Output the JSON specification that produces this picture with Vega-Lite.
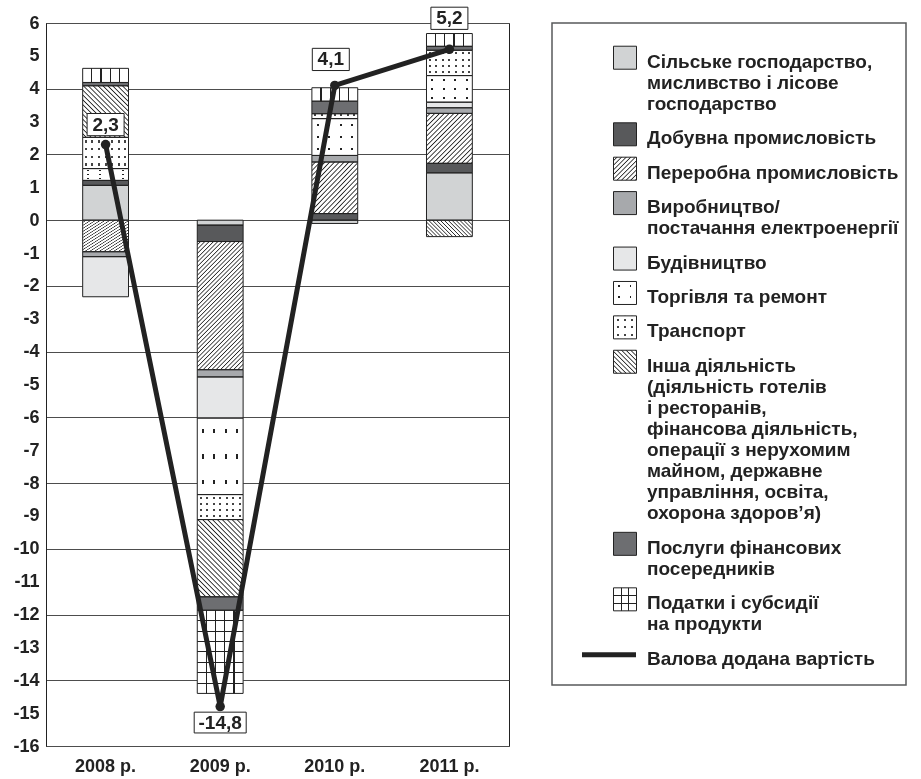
{
"$schema":"https://vega.github.io/schema/vega-lite/v6.json",
"background":"white",
"padding":{"left":12,"top":4,"right":5,"bottom":0},
"spacing":43,
"bounds":"flush",
"config":{"font":"Liberation Sans","locale":{"number":{"decimal":",","thousands":" ","grouping":[3],"currency":["",""],"minus":"-"}},"axis":{"labelFont":"Liberation Sans","labelFontWeight":"bold","labelFontSize":18,"labelColor":"#222"}},
"datasets":{
"seg":[
{"year":"2008 р.","cat":"agri","v":1.06},{"year":"2008 р.","cat":"mining","v":0.15},{"year":"2008 р.","cat":"manuf","v":-0.96},{"year":"2008 р.","cat":"elec","v":-0.15},{"year":"2008 р.","cat":"constr","v":-1.22},{"year":"2008 р.","cat":"trade","v":0.36},{"year":"2008 р.","cat":"transport","v":0.95},{"year":"2008 р.","cat":"other","v":1.57},{"year":"2008 р.","cat":"fin","v":0.10},{"year":"2008 р.","cat":"taxes","v":0.43},
{"year":"2009 р.","cat":"agri","v":-0.15},{"year":"2009 р.","cat":"mining","v":-0.5},{"year":"2009 р.","cat":"manuf","v":-3.9},{"year":"2009 р.","cat":"elec","v":-0.22},{"year":"2009 р.","cat":"constr","v":-1.25},{"year":"2009 р.","cat":"trade","v":-2.33},{"year":"2009 р.","cat":"transport","v":-0.76},{"year":"2009 р.","cat":"other","v":-2.35},{"year":"2009 р.","cat":"fin","v":-0.41},{"year":"2009 р.","cat":"taxes","v":-2.53},
{"year":"2010 р.","cat":"agri","v":-0.1},{"year":"2010 р.","cat":"mining","v":0.2},{"year":"2010 р.","cat":"manuf","v":1.57},{"year":"2010 р.","cat":"elec","v":0.2},{"year":"2010 р.","cat":"trade","v":1.12},{"year":"2010 р.","cat":"transport","v":0.15},{"year":"2010 р.","cat":"fin","v":0.38},{"year":"2010 р.","cat":"taxes","v":0.41},
{"year":"2011 р.","cat":"agri","v":1.44},{"year":"2011 р.","cat":"mining","v":0.29},{"year":"2011 р.","cat":"manuf","v":1.52},{"year":"2011 р.","cat":"elec","v":0.17},{"year":"2011 р.","cat":"constr","v":0.17},{"year":"2011 р.","cat":"trade","v":0.81},{"year":"2011 р.","cat":"transport","v":0.77},{"year":"2011 р.","cat":"other","v":-0.5},{"year":"2011 р.","cat":"fin","v":0.12},{"year":"2011 р.","cat":"taxes","v":0.39}
],
"gva":[{"year":"2008 р.","gva":2.3},{"year":"2009 р.","gva":-14.8},{"year":"2010 р.","gva":4.1},{"year":"2011 р.","gva":5.2}],
"leg":[
{"cat":"agri","label":"Сільське господарство,\nмисливство і лісове\nгосподарство"},
{"cat":"mining","label":"Добувна промисловість"},
{"cat":"manuf","label":"Переробна промисловість"},
{"cat":"elec","label":"Виробництво/\nпостачання електроенергії"},
{"cat":"constr","label":"Будівництво"},
{"cat":"trade","label":"Торгівля та ремонт"},
{"cat":"transport","label":"Транспорт"},
{"cat":"other","label":"Інша діяльність\n(діяльність готелів\nі ресторанів,\nфінансова діяльність,\nоперації з нерухомим\nмайном, державне\nуправління, освіта,\nохорона здоров’я)"},
{"cat":"fin","label":"Послуги фінансових\nпосередників"},
{"cat":"taxes","label":"Податки і субсидії\nна продукти"},
{"cat":"gva","label":"Валова додана вартість"}
]
},
"hconcat":[
{
"width":463,"height":723,
"view":{"stroke":"#222","strokeWidth":1},
"resolve":{"axis":{"y":"independent"}},
"encoding":{"x":{"field":"year","type":"ordinal","scale":{"domain":["2008 р.","2009 р.","2010 р.","2011 р."],"paddingInner":0.6,"paddingOuter":0.32},"axis":{"title":null,"domain":false,"ticks":false,"labelAngle":0,"labelPadding":11,"grid":false}}},
"layer":[
{
"data":{"name":"seg"},
"transform":[
{"calculate":"indexof(['agri','mining','manuf','elec','constr','trade','transport','other','fin','taxes'], datum.cat)","as":"ord"},
{"stack":"v","groupby":["year"],"sort":[{"field":"ord","order":"ascending"}],"as":["s0","s1"],"offset":"zero"}
],
"encoding":{
"y":{"field":"s0","type":"quantitative","title":null,"scale":{"domain":[-16,6],"nice":false,"zero":false},"axis":{"title":null,"values":[6,5,4,3,2,1,0,-1,-2,-3,-4,-5,-6,-7,-8,-9,-10,-11,-12,-13,-14,-15,-16],"ticks":false,"domainColor":"#222","labelPadding":7,"labelOverlap":false,"grid":true,"gridColor":"#4d4d4d","gridOpacity":{"condition":{"test":"datum.value % 2 !== 0","value":0},"value":1}}},
"y2":{"field":"s1"}
},
"layer":[
{"mark":{"type":"bar","strokeWidth":0},"encoding":{"fill":{"field":"cat","type":"nominal","scale":{"domain":["agri","mining","manuf","elec","constr","trade","transport","other","fin","taxes"],"range":["#d1d3d4","#58595b","#ffffff","#a7a9ac","#e6e7e8","#ffffff","#ffffff","#ffffff","#6d6e71","#ffffff"]},"legend":null}}},
{"transform":[{"filter":"datum.cat=='manuf' && datum.year!='2009 р.'"}],"mark":{"type":"bar","strokeWidth":0,"fill":{"gradient":"linear","x1":0,"y1":0,"x2":0.957,"y2":1.04,"stops":[{"offset":0,"color":"#fff"},{"offset":0.025,"color":"#fff"},{"offset":0.0375,"color":"#222"},{"offset":0.05,"color":"#fff"},{"offset":0.075,"color":"#fff"},{"offset":0.0875,"color":"#222"},{"offset":0.1,"color":"#fff"},{"offset":0.125,"color":"#fff"},{"offset":0.1375,"color":"#222"},{"offset":0.15,"color":"#fff"},{"offset":0.175,"color":"#fff"},{"offset":0.1875,"color":"#222"},{"offset":0.2,"color":"#fff"},{"offset":0.225,"color":"#fff"},{"offset":0.2375,"color":"#222"},{"offset":0.25,"color":"#fff"},{"offset":0.275,"color":"#fff"},{"offset":0.2875,"color":"#222"},{"offset":0.3,"color":"#fff"},{"offset":0.325,"color":"#fff"},{"offset":0.3375,"color":"#222"},{"offset":0.35,"color":"#fff"},{"offset":0.375,"color":"#fff"},{"offset":0.3875,"color":"#222"},{"offset":0.4,"color":"#fff"},{"offset":0.425,"color":"#fff"},{"offset":0.4375,"color":"#222"},{"offset":0.45,"color":"#fff"},{"offset":0.475,"color":"#fff"},{"offset":0.4875,"color":"#222"},{"offset":0.5,"color":"#fff"},{"offset":0.525,"color":"#fff"},{"offset":0.5375,"color":"#222"},{"offset":0.55,"color":"#fff"},{"offset":0.575,"color":"#fff"},{"offset":0.5875,"color":"#222"},{"offset":0.6,"color":"#fff"},{"offset":0.625,"color":"#fff"},{"offset":0.6375,"color":"#222"},{"offset":0.65,"color":"#fff"},{"offset":0.675,"color":"#fff"},{"offset":0.6875,"color":"#222"},{"offset":0.7,"color":"#fff"},{"offset":0.725,"color":"#fff"},{"offset":0.7375,"color":"#222"},{"offset":0.75,"color":"#fff"},{"offset":0.775,"color":"#fff"},{"offset":0.7875,"color":"#222"},{"offset":0.8,"color":"#fff"},{"offset":0.825,"color":"#fff"},{"offset":0.8375,"color":"#222"},{"offset":0.85,"color":"#fff"},{"offset":0.875,"color":"#fff"},{"offset":0.8875,"color":"#222"},{"offset":0.9,"color":"#fff"},{"offset":0.925,"color":"#fff"},{"offset":0.9375,"color":"#222"},{"offset":0.95,"color":"#fff"},{"offset":0.975,"color":"#fff"},{"offset":0.9875,"color":"#222"},{"offset":1,"color":"#fff"}]}}},
{"transform":[{"filter":"datum.cat=='manuf' && datum.year=='2009 р.'"}],"mark":{"type":"bar","strokeWidth":0,"fill":{"gradient":"linear","x1":0,"y1":0,"x2":0.433,"y2":1.204,"stops":[{"offset":0,"color":"#fff"},{"offset":0.0125,"color":"#fff"},{"offset":0.01875,"color":"#222"},{"offset":0.025,"color":"#fff"},{"offset":0.0375,"color":"#fff"},{"offset":0.04375,"color":"#222"},{"offset":0.05,"color":"#fff"},{"offset":0.0625,"color":"#fff"},{"offset":0.06875,"color":"#222"},{"offset":0.075,"color":"#fff"},{"offset":0.0875,"color":"#fff"},{"offset":0.09375,"color":"#222"},{"offset":0.1,"color":"#fff"},{"offset":0.1125,"color":"#fff"},{"offset":0.11875,"color":"#222"},{"offset":0.125,"color":"#fff"},{"offset":0.1375,"color":"#fff"},{"offset":0.14375,"color":"#222"},{"offset":0.15,"color":"#fff"},{"offset":0.1625,"color":"#fff"},{"offset":0.16875,"color":"#222"},{"offset":0.175,"color":"#fff"},{"offset":0.1875,"color":"#fff"},{"offset":0.19375,"color":"#222"},{"offset":0.2,"color":"#fff"},{"offset":0.2125,"color":"#fff"},{"offset":0.21875,"color":"#222"},{"offset":0.225,"color":"#fff"},{"offset":0.2375,"color":"#fff"},{"offset":0.24375,"color":"#222"},{"offset":0.25,"color":"#fff"},{"offset":0.2625,"color":"#fff"},{"offset":0.26875,"color":"#222"},{"offset":0.275,"color":"#fff"},{"offset":0.2875,"color":"#fff"},{"offset":0.29375,"color":"#222"},{"offset":0.3,"color":"#fff"},{"offset":0.3125,"color":"#fff"},{"offset":0.31875,"color":"#222"},{"offset":0.325,"color":"#fff"},{"offset":0.3375,"color":"#fff"},{"offset":0.34375,"color":"#222"},{"offset":0.35,"color":"#fff"},{"offset":0.3625,"color":"#fff"},{"offset":0.36875,"color":"#222"},{"offset":0.375,"color":"#fff"},{"offset":0.3875,"color":"#fff"},{"offset":0.39375,"color":"#222"},{"offset":0.4,"color":"#fff"},{"offset":0.4125,"color":"#fff"},{"offset":0.41875,"color":"#222"},{"offset":0.425,"color":"#fff"},{"offset":0.4375,"color":"#fff"},{"offset":0.44375,"color":"#222"},{"offset":0.45,"color":"#fff"},{"offset":0.4625,"color":"#fff"},{"offset":0.46875,"color":"#222"},{"offset":0.475,"color":"#fff"},{"offset":0.4875,"color":"#fff"},{"offset":0.49375,"color":"#222"},{"offset":0.5,"color":"#fff"},{"offset":0.5125,"color":"#fff"},{"offset":0.51875,"color":"#222"},{"offset":0.525,"color":"#fff"},{"offset":0.5375,"color":"#fff"},{"offset":0.54375,"color":"#222"},{"offset":0.55,"color":"#fff"},{"offset":0.5625,"color":"#fff"},{"offset":0.56875,"color":"#222"},{"offset":0.575,"color":"#fff"},{"offset":0.5875,"color":"#fff"},{"offset":0.59375,"color":"#222"},{"offset":0.6,"color":"#fff"},{"offset":0.6125,"color":"#fff"},{"offset":0.61875,"color":"#222"},{"offset":0.625,"color":"#fff"},{"offset":0.6375,"color":"#fff"},{"offset":0.64375,"color":"#222"},{"offset":0.65,"color":"#fff"},{"offset":0.6625,"color":"#fff"},{"offset":0.66875,"color":"#222"},{"offset":0.675,"color":"#fff"},{"offset":0.6875,"color":"#fff"},{"offset":0.69375,"color":"#222"},{"offset":0.7,"color":"#fff"},{"offset":0.7125,"color":"#fff"},{"offset":0.71875,"color":"#222"},{"offset":0.725,"color":"#fff"},{"offset":0.7375,"color":"#fff"},{"offset":0.74375,"color":"#222"},{"offset":0.75,"color":"#fff"},{"offset":0.7625,"color":"#fff"},{"offset":0.76875,"color":"#222"},{"offset":0.775,"color":"#fff"},{"offset":0.7875,"color":"#fff"},{"offset":0.79375,"color":"#222"},{"offset":0.8,"color":"#fff"},{"offset":0.8125,"color":"#fff"},{"offset":0.81875,"color":"#222"},{"offset":0.825,"color":"#fff"},{"offset":0.8375,"color":"#fff"},{"offset":0.84375,"color":"#222"},{"offset":0.85,"color":"#fff"},{"offset":0.8625,"color":"#fff"},{"offset":0.86875,"color":"#222"},{"offset":0.875,"color":"#fff"},{"offset":0.8875,"color":"#fff"},{"offset":0.89375,"color":"#222"},{"offset":0.9,"color":"#fff"},{"offset":0.9125,"color":"#fff"},{"offset":0.91875,"color":"#222"},{"offset":0.925,"color":"#fff"},{"offset":0.9375,"color":"#fff"},{"offset":0.94375,"color":"#222"},{"offset":0.95,"color":"#fff"},{"offset":0.9625,"color":"#fff"},{"offset":0.96875,"color":"#222"},{"offset":0.975,"color":"#fff"},{"offset":0.9875,"color":"#fff"},{"offset":0.99375,"color":"#222"},{"offset":1,"color":"#fff"}]}}},
{"transform":[{"filter":"datum.cat=='other' && datum.year=='2008 р.'"}],"mark":{"type":"bar","strokeWidth":0,"fill":{"gradient":"linear","x1":0,"y1":1,"x2":0.935,"y2":-0.057,"stops":[{"offset":0,"color":"#fff"},{"offset":0.025,"color":"#fff"},{"offset":0.0375,"color":"#222"},{"offset":0.05,"color":"#fff"},{"offset":0.075,"color":"#fff"},{"offset":0.0875,"color":"#222"},{"offset":0.1,"color":"#fff"},{"offset":0.125,"color":"#fff"},{"offset":0.1375,"color":"#222"},{"offset":0.15,"color":"#fff"},{"offset":0.175,"color":"#fff"},{"offset":0.1875,"color":"#222"},{"offset":0.2,"color":"#fff"},{"offset":0.225,"color":"#fff"},{"offset":0.2375,"color":"#222"},{"offset":0.25,"color":"#fff"},{"offset":0.275,"color":"#fff"},{"offset":0.2875,"color":"#222"},{"offset":0.3,"color":"#fff"},{"offset":0.325,"color":"#fff"},{"offset":0.3375,"color":"#222"},{"offset":0.35,"color":"#fff"},{"offset":0.375,"color":"#fff"},{"offset":0.3875,"color":"#222"},{"offset":0.4,"color":"#fff"},{"offset":0.425,"color":"#fff"},{"offset":0.4375,"color":"#222"},{"offset":0.45,"color":"#fff"},{"offset":0.475,"color":"#fff"},{"offset":0.4875,"color":"#222"},{"offset":0.5,"color":"#fff"},{"offset":0.525,"color":"#fff"},{"offset":0.5375,"color":"#222"},{"offset":0.55,"color":"#fff"},{"offset":0.575,"color":"#fff"},{"offset":0.5875,"color":"#222"},{"offset":0.6,"color":"#fff"},{"offset":0.625,"color":"#fff"},{"offset":0.6375,"color":"#222"},{"offset":0.65,"color":"#fff"},{"offset":0.675,"color":"#fff"},{"offset":0.6875,"color":"#222"},{"offset":0.7,"color":"#fff"},{"offset":0.725,"color":"#fff"},{"offset":0.7375,"color":"#222"},{"offset":0.75,"color":"#fff"},{"offset":0.775,"color":"#fff"},{"offset":0.7875,"color":"#222"},{"offset":0.8,"color":"#fff"},{"offset":0.825,"color":"#fff"},{"offset":0.8375,"color":"#222"},{"offset":0.85,"color":"#fff"},{"offset":0.875,"color":"#fff"},{"offset":0.8875,"color":"#222"},{"offset":0.9,"color":"#fff"},{"offset":0.925,"color":"#fff"},{"offset":0.9375,"color":"#222"},{"offset":0.95,"color":"#fff"},{"offset":0.975,"color":"#fff"},{"offset":0.9875,"color":"#222"},{"offset":1,"color":"#fff"}]}}},
{"transform":[{"filter":"datum.cat=='other' && datum.year=='2009 р.'"}],"mark":{"type":"bar","strokeWidth":0,"fill":{"gradient":"linear","x1":0,"y1":1,"x2":0.703,"y2":-0.177,"stops":[{"offset":0,"color":"#fff"},{"offset":0.02,"color":"#fff"},{"offset":0.03,"color":"#222"},{"offset":0.04,"color":"#fff"},{"offset":0.06,"color":"#fff"},{"offset":0.07,"color":"#222"},{"offset":0.08,"color":"#fff"},{"offset":0.1,"color":"#fff"},{"offset":0.11,"color":"#222"},{"offset":0.12,"color":"#fff"},{"offset":0.14,"color":"#fff"},{"offset":0.15,"color":"#222"},{"offset":0.16,"color":"#fff"},{"offset":0.18,"color":"#fff"},{"offset":0.19,"color":"#222"},{"offset":0.2,"color":"#fff"},{"offset":0.22,"color":"#fff"},{"offset":0.23,"color":"#222"},{"offset":0.24,"color":"#fff"},{"offset":0.26,"color":"#fff"},{"offset":0.27,"color":"#222"},{"offset":0.28,"color":"#fff"},{"offset":0.3,"color":"#fff"},{"offset":0.31,"color":"#222"},{"offset":0.32,"color":"#fff"},{"offset":0.34,"color":"#fff"},{"offset":0.35,"color":"#222"},{"offset":0.36,"color":"#fff"},{"offset":0.38,"color":"#fff"},{"offset":0.39,"color":"#222"},{"offset":0.4,"color":"#fff"},{"offset":0.42,"color":"#fff"},{"offset":0.43,"color":"#222"},{"offset":0.44,"color":"#fff"},{"offset":0.46,"color":"#fff"},{"offset":0.47,"color":"#222"},{"offset":0.48,"color":"#fff"},{"offset":0.5,"color":"#fff"},{"offset":0.51,"color":"#222"},{"offset":0.52,"color":"#fff"},{"offset":0.54,"color":"#fff"},{"offset":0.55,"color":"#222"},{"offset":0.56,"color":"#fff"},{"offset":0.58,"color":"#fff"},{"offset":0.59,"color":"#222"},{"offset":0.6,"color":"#fff"},{"offset":0.62,"color":"#fff"},{"offset":0.63,"color":"#222"},{"offset":0.64,"color":"#fff"},{"offset":0.66,"color":"#fff"},{"offset":0.67,"color":"#222"},{"offset":0.68,"color":"#fff"},{"offset":0.7,"color":"#fff"},{"offset":0.71,"color":"#222"},{"offset":0.72,"color":"#fff"},{"offset":0.74,"color":"#fff"},{"offset":0.75,"color":"#222"},{"offset":0.76,"color":"#fff"},{"offset":0.78,"color":"#fff"},{"offset":0.79,"color":"#222"},{"offset":0.8,"color":"#fff"},{"offset":0.82,"color":"#fff"},{"offset":0.83,"color":"#222"},{"offset":0.84,"color":"#fff"},{"offset":0.86,"color":"#fff"},{"offset":0.87,"color":"#222"},{"offset":0.88,"color":"#fff"},{"offset":0.9,"color":"#fff"},{"offset":0.91,"color":"#222"},{"offset":0.92,"color":"#fff"},{"offset":0.94,"color":"#fff"},{"offset":0.95,"color":"#222"},{"offset":0.96,"color":"#fff"},{"offset":0.98,"color":"#fff"},{"offset":0.99,"color":"#222"},{"offset":1,"color":"#fff"}]}}},
{"transform":[{"filter":"datum.cat=='other' && datum.year=='2011 р.'"}],"mark":{"type":"bar","strokeWidth":0,"fill":{"gradient":"linear","x1":0,"y1":1,"x2":1.204,"y2":0.568,"stops":[{"offset":0,"color":"#fff"},{"offset":0.03125,"color":"#fff"},{"offset":0.046875,"color":"#222"},{"offset":0.0625,"color":"#fff"},{"offset":0.09375,"color":"#fff"},{"offset":0.109375,"color":"#222"},{"offset":0.125,"color":"#fff"},{"offset":0.15625,"color":"#fff"},{"offset":0.171875,"color":"#222"},{"offset":0.1875,"color":"#fff"},{"offset":0.21875,"color":"#fff"},{"offset":0.234375,"color":"#222"},{"offset":0.25,"color":"#fff"},{"offset":0.28125,"color":"#fff"},{"offset":0.296875,"color":"#222"},{"offset":0.3125,"color":"#fff"},{"offset":0.34375,"color":"#fff"},{"offset":0.359375,"color":"#222"},{"offset":0.375,"color":"#fff"},{"offset":0.40625,"color":"#fff"},{"offset":0.421875,"color":"#222"},{"offset":0.4375,"color":"#fff"},{"offset":0.46875,"color":"#fff"},{"offset":0.484375,"color":"#222"},{"offset":0.5,"color":"#fff"},{"offset":0.53125,"color":"#fff"},{"offset":0.546875,"color":"#222"},{"offset":0.5625,"color":"#fff"},{"offset":0.59375,"color":"#fff"},{"offset":0.609375,"color":"#222"},{"offset":0.625,"color":"#fff"},{"offset":0.65625,"color":"#fff"},{"offset":0.671875,"color":"#222"},{"offset":0.6875,"color":"#fff"},{"offset":0.71875,"color":"#fff"},{"offset":0.734375,"color":"#222"},{"offset":0.75,"color":"#fff"},{"offset":0.78125,"color":"#fff"},{"offset":0.796875,"color":"#222"},{"offset":0.8125,"color":"#fff"},{"offset":0.84375,"color":"#fff"},{"offset":0.859375,"color":"#222"},{"offset":0.875,"color":"#fff"},{"offset":0.90625,"color":"#fff"},{"offset":0.921875,"color":"#222"},{"offset":0.9375,"color":"#fff"},{"offset":0.96875,"color":"#fff"},{"offset":0.984375,"color":"#222"},{"offset":1,"color":"#fff"}]}}},
{"transform":[{"filter":"datum.cat=='taxes'"}],"mark":{"type":"bar","strokeWidth":0,"fill":{"gradient":"linear","x1":0,"y1":0,"x2":1,"y2":0,"stops":[{"offset":0.188,"color":"#fff"},{"offset":0.188,"color":"#222"},{"offset":0.212,"color":"#222"},{"offset":0.212,"color":"#fff"},{"offset":0.388,"color":"#fff"},{"offset":0.388,"color":"#222"},{"offset":0.412,"color":"#222"},{"offset":0.412,"color":"#fff"},{"offset":0.588,"color":"#fff"},{"offset":0.588,"color":"#222"},{"offset":0.612,"color":"#222"},{"offset":0.612,"color":"#fff"},{"offset":0.788,"color":"#fff"},{"offset":0.788,"color":"#222"},{"offset":0.812,"color":"#222"},{"offset":0.812,"color":"#fff"}]}}},
{"transform":[{"filter":"datum.cat=='taxes' && datum.year=='2009 р.'"}],"mark":{"type":"bar","strokeWidth":0,"fill":{"gradient":"linear","x1":0,"y1":0,"x2":0,"y2":1,"stops":[{"offset":0.119,"color":"rgba(0,0,0,0)"},{"offset":0.119,"color":"#222"},{"offset":0.131,"color":"#222"},{"offset":0.131,"color":"rgba(0,0,0,0)"},{"offset":0.244,"color":"rgba(0,0,0,0)"},{"offset":0.244,"color":"#222"},{"offset":0.256,"color":"#222"},{"offset":0.256,"color":"rgba(0,0,0,0)"},{"offset":0.369,"color":"rgba(0,0,0,0)"},{"offset":0.369,"color":"#222"},{"offset":0.381,"color":"#222"},{"offset":0.381,"color":"rgba(0,0,0,0)"},{"offset":0.494,"color":"rgba(0,0,0,0)"},{"offset":0.494,"color":"#222"},{"offset":0.506,"color":"#222"},{"offset":0.506,"color":"rgba(0,0,0,0)"},{"offset":0.619,"color":"rgba(0,0,0,0)"},{"offset":0.619,"color":"#222"},{"offset":0.631,"color":"#222"},{"offset":0.631,"color":"rgba(0,0,0,0)"},{"offset":0.744,"color":"rgba(0,0,0,0)"},{"offset":0.744,"color":"#222"},{"offset":0.756,"color":"#222"},{"offset":0.756,"color":"rgba(0,0,0,0)"},{"offset":0.869,"color":"rgba(0,0,0,0)"},{"offset":0.869,"color":"#222"},{"offset":0.881,"color":"#222"},{"offset":0.881,"color":"rgba(0,0,0,0)"}]}}},
{"transform":[{"filter":"datum.cat=='trade'"}],"mark":{"type":"bar","strokeWidth":0,"fill":{"gradient":"linear","x1":0,"y1":0,"x2":1,"y2":0,"stops":[{"offset":0.103,"color":"#fff"},{"offset":0.103,"color":"#222"},{"offset":0.147,"color":"#222"},{"offset":0.147,"color":"#fff"},{"offset":0.353,"color":"#fff"},{"offset":0.353,"color":"#222"},{"offset":0.397,"color":"#222"},{"offset":0.397,"color":"#fff"},{"offset":0.603,"color":"#fff"},{"offset":0.603,"color":"#222"},{"offset":0.647,"color":"#222"},{"offset":0.647,"color":"#fff"},{"offset":0.853,"color":"#fff"},{"offset":0.853,"color":"#222"},{"offset":0.897,"color":"#222"},{"offset":0.897,"color":"#fff"}]}}},
{"transform":[{"filter":"datum.cat=='trade'"}],"mark":{"type":"bar","strokeWidth":0,"blend":"lighten","fill":{"gradient":"linear","x1":0,"y1":0,"x2":0,"y2":1,"stops":[{"offset":0.137,"color":"#fff"},{"offset":0.137,"color":"#222"},{"offset":0.197,"color":"#222"},{"offset":0.197,"color":"#fff"},{"offset":0.47,"color":"#fff"},{"offset":0.47,"color":"#222"},{"offset":0.53,"color":"#222"},{"offset":0.53,"color":"#fff"},{"offset":0.803,"color":"#fff"},{"offset":0.803,"color":"#222"},{"offset":0.863,"color":"#222"},{"offset":0.863,"color":"#fff"}]}}},
{"transform":[{"filter":"datum.cat=='transport'"}],"mark":{"type":"bar","strokeWidth":0,"fill":{"gradient":"linear","x1":0,"y1":0,"x2":1,"y2":0,"stops":[{"offset":0.049,"color":"#fff"},{"offset":0.049,"color":"#444"},{"offset":0.093,"color":"#444"},{"offset":0.093,"color":"#fff"},{"offset":0.192,"color":"#fff"},{"offset":0.192,"color":"#444"},{"offset":0.236,"color":"#444"},{"offset":0.236,"color":"#fff"},{"offset":0.335,"color":"#fff"},{"offset":0.335,"color":"#444"},{"offset":0.379,"color":"#444"},{"offset":0.379,"color":"#fff"},{"offset":0.478,"color":"#fff"},{"offset":0.478,"color":"#444"},{"offset":0.522,"color":"#444"},{"offset":0.522,"color":"#fff"},{"offset":0.621,"color":"#fff"},{"offset":0.621,"color":"#444"},{"offset":0.665,"color":"#444"},{"offset":0.665,"color":"#fff"},{"offset":0.764,"color":"#fff"},{"offset":0.764,"color":"#444"},{"offset":0.808,"color":"#444"},{"offset":0.808,"color":"#fff"},{"offset":0.907,"color":"#fff"},{"offset":0.907,"color":"#444"},{"offset":0.951,"color":"#444"},{"offset":0.951,"color":"#fff"}]}}},
{"transform":[{"filter":"datum.cat=='transport'"}],"mark":{"type":"bar","strokeWidth":0,"blend":"lighten","fill":{"gradient":"linear","x1":0,"y1":0,"x2":0,"y2":1,"stops":[{"offset":0.085,"color":"#fff"},{"offset":0.085,"color":"#444"},{"offset":0.165,"color":"#444"},{"offset":0.165,"color":"#fff"},{"offset":0.335,"color":"#fff"},{"offset":0.335,"color":"#444"},{"offset":0.415,"color":"#444"},{"offset":0.415,"color":"#fff"},{"offset":0.585,"color":"#fff"},{"offset":0.585,"color":"#444"},{"offset":0.665,"color":"#444"},{"offset":0.665,"color":"#fff"},{"offset":0.835,"color":"#fff"},{"offset":0.835,"color":"#444"},{"offset":0.915,"color":"#444"},{"offset":0.915,"color":"#fff"}]}}},
{"mark":{"type":"bar","filled":false,"stroke":"#222","strokeWidth":1}}
]
},
{"data":{"name":"gva"},"mark":{"type":"line","color":"#222","strokeWidth":5,"point":{"filled":true,"size":90,"color":"#222","opacity":1}},"encoding":{"y":{"field":"gva","type":"quantitative","axis":null}}},
{"data":{"name":"gva"},"transform":[{"filter":"datum.year=='2008 р.'"}],"encoding":{"y":{"field":"gva","type":"quantitative","axis":null},"text":{"field":"gva","type":"quantitative","format":".1f"}},"layer":[
{"mark":{"type":"point","shape":"M-1,-0.6H1V0.6H-1Z","size":1369,"filled":true,"fill":"#fff","stroke":"#222","strokeWidth":1,"opacity":1,"yOffset":-20}},
{"mark":{"type":"text","font":"Liberation Sans","fontSize":19,"fontWeight":"bold","fill":"#222","baseline":"middle","yOffset":-20}}]},
{"data":{"name":"gva"},"transform":[{"filter":"datum.year=='2009 р.'"}],"encoding":{"y":{"field":"gva","type":"quantitative","axis":null},"text":{"field":"gva","type":"quantitative","format":".1f"}},"layer":[
{"mark":{"type":"point","shape":"M-1,-0.4H1V0.4H-1Z","size":2704,"filled":true,"fill":"#fff","stroke":"#222","strokeWidth":1,"opacity":1,"yOffset":16}},
{"mark":{"type":"text","font":"Liberation Sans","fontSize":19,"fontWeight":"bold","fill":"#222","baseline":"middle","yOffset":16}}]},
{"data":{"name":"gva"},"transform":[{"filter":"datum.year=='2010 р.'"}],"encoding":{"y":{"field":"gva","type":"quantitative","axis":null},"text":{"field":"gva","type":"quantitative","format":".1f"}},"layer":[
{"mark":{"type":"point","shape":"M-1,-0.6H1V0.6H-1Z","size":1369,"filled":true,"fill":"#fff","stroke":"#222","strokeWidth":1,"opacity":1,"yOffset":-26,"xOffset":-4}},
{"mark":{"type":"text","font":"Liberation Sans","fontSize":19,"fontWeight":"bold","fill":"#222","baseline":"middle","yOffset":-26,"xOffset":-4}}]},
{"data":{"name":"gva"},"transform":[{"filter":"datum.year=='2011 р.'"}],"encoding":{"y":{"field":"gva","type":"quantitative","axis":null},"text":{"field":"gva","type":"quantitative","format":".1f"}},"layer":[
{"mark":{"type":"point","shape":"M-1,-0.6H1V0.6H-1Z","size":1369,"filled":true,"fill":"#fff","stroke":"#222","strokeWidth":1,"opacity":1,"yOffset":-31}},
{"mark":{"type":"text","font":"Liberation Sans","fontSize":19,"fontWeight":"bold","fill":"#222","baseline":"middle","yOffset":-31}}]}
]
},
{
"width":354,"height":662,
"view":{"stroke":"#58595b","strokeWidth":1.5},
"data":{"name":"leg"},
"transform":[
{"calculate":"indexof(['agri','mining','manuf','elec','constr','trade','transport','other','fin','taxes','gva'], datum.cat)","as":"ord"},
{"calculate":"length(split(datum.label, '\\n')) + 0.63","as":"span"},
{"window":[{"op":"sum","field":"span","as":"cum"}],"sort":[{"field":"ord","order":"ascending"}],"frame":[null,0]},
{"calculate":"datum.cum - datum.span","as":"pos"}
],
"encoding":{"y":{"field":"pos","type":"quantitative","scale":{"domain":[-1.645,29.73],"reverse":true,"nice":false,"zero":false},"axis":null}},
"layer":[
{"transform":[{"filter":"datum.cat!='gva'"}],"mark":{"type":"point","shape":"square","size":529,"filled":true,"opacity":1,"strokeWidth":0},"encoding":{"x":{"value":73},"fill":{"field":"cat","type":"nominal","scale":{"domain":["agri","mining","manuf","elec","constr","trade","transport","other","fin","taxes"],"range":["#d1d3d4","#58595b","#ffffff","#a7a9ac","#e6e7e8","#ffffff","#ffffff","#ffffff","#6d6e71","#ffffff"]},"legend":null}}},
{"transform":[{"filter":"datum.cat=='manuf'"}],"mark":{"type":"point","shape":"square","size":529,"filled":true,"opacity":1,"strokeWidth":0,"fill":{"gradient":"linear","x1":0,"y1":0,"x2":1,"y2":1,"stops":[{"offset":0,"color":"#fff"},{"offset":0.05,"color":"#fff"},{"offset":0.075,"color":"#222"},{"offset":0.1,"color":"#fff"},{"offset":0.15,"color":"#fff"},{"offset":0.175,"color":"#222"},{"offset":0.2,"color":"#fff"},{"offset":0.25,"color":"#fff"},{"offset":0.275,"color":"#222"},{"offset":0.3,"color":"#fff"},{"offset":0.35,"color":"#fff"},{"offset":0.375,"color":"#222"},{"offset":0.4,"color":"#fff"},{"offset":0.45,"color":"#fff"},{"offset":0.475,"color":"#222"},{"offset":0.5,"color":"#fff"},{"offset":0.55,"color":"#fff"},{"offset":0.575,"color":"#222"},{"offset":0.6,"color":"#fff"},{"offset":0.65,"color":"#fff"},{"offset":0.675,"color":"#222"},{"offset":0.7,"color":"#fff"},{"offset":0.75,"color":"#fff"},{"offset":0.775,"color":"#222"},{"offset":0.8,"color":"#fff"},{"offset":0.85,"color":"#fff"},{"offset":0.875,"color":"#222"},{"offset":0.9,"color":"#fff"},{"offset":0.95,"color":"#fff"},{"offset":0.975,"color":"#222"},{"offset":1,"color":"#fff"}]}},"encoding":{"x":{"value":73}}},
{"transform":[{"filter":"datum.cat=='other'"}],"mark":{"type":"point","shape":"square","size":529,"filled":true,"opacity":1,"strokeWidth":0,"fill":{"gradient":"linear","x1":0,"y1":1,"x2":1,"y2":0,"stops":[{"offset":0,"color":"#fff"},{"offset":0.05,"color":"#fff"},{"offset":0.075,"color":"#222"},{"offset":0.1,"color":"#fff"},{"offset":0.15,"color":"#fff"},{"offset":0.175,"color":"#222"},{"offset":0.2,"color":"#fff"},{"offset":0.25,"color":"#fff"},{"offset":0.275,"color":"#222"},{"offset":0.3,"color":"#fff"},{"offset":0.35,"color":"#fff"},{"offset":0.375,"color":"#222"},{"offset":0.4,"color":"#fff"},{"offset":0.45,"color":"#fff"},{"offset":0.475,"color":"#222"},{"offset":0.5,"color":"#fff"},{"offset":0.55,"color":"#fff"},{"offset":0.575,"color":"#222"},{"offset":0.6,"color":"#fff"},{"offset":0.65,"color":"#fff"},{"offset":0.675,"color":"#222"},{"offset":0.7,"color":"#fff"},{"offset":0.75,"color":"#fff"},{"offset":0.775,"color":"#222"},{"offset":0.8,"color":"#fff"},{"offset":0.85,"color":"#fff"},{"offset":0.875,"color":"#222"},{"offset":0.9,"color":"#fff"},{"offset":0.95,"color":"#fff"},{"offset":0.975,"color":"#222"},{"offset":1,"color":"#fff"}]}},"encoding":{"x":{"value":73}}},
{"transform":[{"filter":"datum.cat=='taxes'"}],"mark":{"type":"point","shape":"square","size":529,"filled":true,"opacity":1,"strokeWidth":0,"fill":{"gradient":"linear","x1":0,"y1":0,"x2":1,"y2":0,"stops":[{"offset":0.311,"color":"#fff"},{"offset":0.311,"color":"#222"},{"offset":0.355,"color":"#222"},{"offset":0.355,"color":"#fff"},{"offset":0.645,"color":"#fff"},{"offset":0.645,"color":"#222"},{"offset":0.689,"color":"#222"},{"offset":0.689,"color":"#fff"}]}},"encoding":{"x":{"value":73}}},
{"transform":[{"filter":"datum.cat=='taxes'"}],"mark":{"type":"point","shape":"square","size":529,"filled":true,"opacity":1,"strokeWidth":0,"fill":{"gradient":"linear","x1":0,"y1":0,"x2":0,"y2":1,"stops":[{"offset":0.311,"color":"rgba(0,0,0,0)"},{"offset":0.311,"color":"#222"},{"offset":0.355,"color":"#222"},{"offset":0.355,"color":"rgba(0,0,0,0)"},{"offset":0.645,"color":"rgba(0,0,0,0)"},{"offset":0.645,"color":"#222"},{"offset":0.689,"color":"#222"},{"offset":0.689,"color":"rgba(0,0,0,0)"}]}},"encoding":{"x":{"value":73}}},
{"transform":[{"filter":"datum.cat=='trade'"}],"mark":{"type":"point","shape":"square","size":529,"filled":true,"opacity":1,"strokeWidth":0,"fill":{"gradient":"linear","x1":0,"y1":0,"x2":1,"y2":0,"stops":[{"offset":0.2,"color":"#fff"},{"offset":0.2,"color":"#222"},{"offset":0.27,"color":"#222"},{"offset":0.27,"color":"#fff"},{"offset":0.7,"color":"#fff"},{"offset":0.7,"color":"#222"},{"offset":0.77,"color":"#222"},{"offset":0.77,"color":"#fff"}]}},"encoding":{"x":{"value":73}}},
{"transform":[{"filter":"datum.cat=='trade'"}],"mark":{"type":"point","shape":"square","size":529,"filled":true,"opacity":1,"strokeWidth":0,"blend":"lighten","fill":{"gradient":"linear","x1":0,"y1":0,"x2":0,"y2":1,"stops":[{"offset":0.15,"color":"#fff"},{"offset":0.15,"color":"#222"},{"offset":0.22,"color":"#222"},{"offset":0.22,"color":"#fff"},{"offset":0.65,"color":"#fff"},{"offset":0.65,"color":"#222"},{"offset":0.72,"color":"#222"},{"offset":0.72,"color":"#fff"}]}},"encoding":{"x":{"value":73}}},
{"transform":[{"filter":"datum.cat=='transport'"}],"mark":{"type":"point","shape":"square","size":529,"filled":true,"opacity":1,"strokeWidth":0,"fill":{"gradient":"linear","x1":0,"y1":0,"x2":1,"y2":0,"stops":[{"offset":0.14,"color":"#fff"},{"offset":0.14,"color":"#444"},{"offset":0.22,"color":"#444"},{"offset":0.22,"color":"#fff"},{"offset":0.46,"color":"#fff"},{"offset":0.46,"color":"#444"},{"offset":0.54,"color":"#444"},{"offset":0.54,"color":"#fff"},{"offset":0.78,"color":"#fff"},{"offset":0.78,"color":"#444"},{"offset":0.86,"color":"#444"},{"offset":0.86,"color":"#fff"}]}},"encoding":{"x":{"value":73}}},
{"transform":[{"filter":"datum.cat=='transport'"}],"mark":{"type":"point","shape":"square","size":529,"filled":true,"opacity":1,"strokeWidth":0,"blend":"lighten","fill":{"gradient":"linear","x1":0,"y1":0,"x2":0,"y2":1,"stops":[{"offset":0.14,"color":"#fff"},{"offset":0.14,"color":"#444"},{"offset":0.22,"color":"#444"},{"offset":0.22,"color":"#fff"},{"offset":0.46,"color":"#fff"},{"offset":0.46,"color":"#444"},{"offset":0.54,"color":"#444"},{"offset":0.54,"color":"#fff"},{"offset":0.78,"color":"#fff"},{"offset":0.78,"color":"#444"},{"offset":0.86,"color":"#444"},{"offset":0.86,"color":"#fff"}]}},"encoding":{"x":{"value":73}}},
{"transform":[{"filter":"datum.cat!='gva'"}],"mark":{"type":"point","shape":"square","size":529,"filled":false,"opacity":1,"stroke":"#222","strokeWidth":1},"encoding":{"x":{"value":73}}},
{"transform":[{"filter":"datum.cat=='gva'"}],"mark":{"type":"rule","strokeWidth":5,"color":"#222","strokeCap":"butt"},"encoding":{"x":{"value":30},"x2":{"value":84}}},
{"mark":{"type":"text","align":"left","baseline":"alphabetic","dy":10,"font":"Liberation Sans","fontSize":19,"fontWeight":"bold","lineBreak":"\n","lineHeight":21.1,"fill":"#222"},"encoding":{"x":{"value":95},"text":{"field":"label"}}}
]
}
]
}
